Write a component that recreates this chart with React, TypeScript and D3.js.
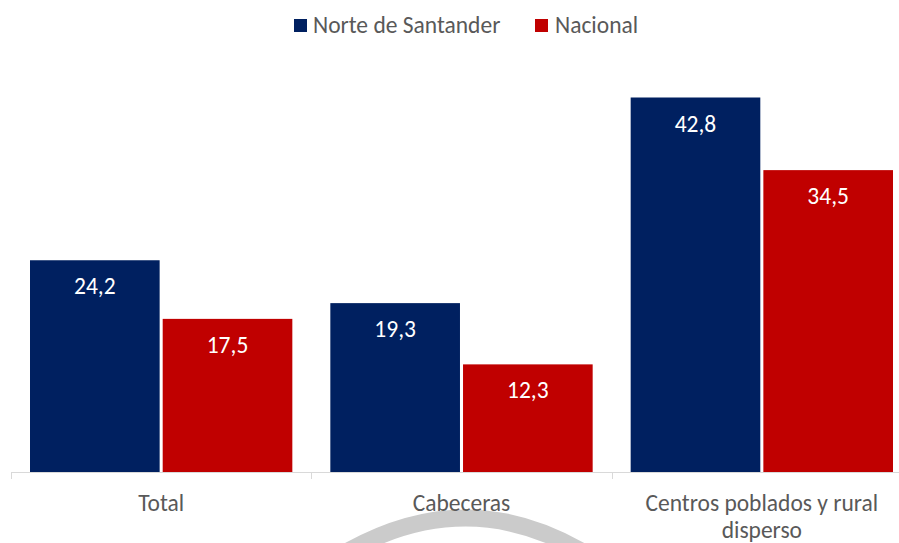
import React from 'react';
import * as d3 from 'd3';

const categories = ['Total', 'Cabeceras', 'Centros poblados y rural disperso'];
const categoryLines = [['Total'], ['Cabeceras'], ['Centros poblados y rural', 'disperso']];
const seriesNames = ['Norte de Santander', 'Nacional'];
const norteValues = [24.2, 19.3, 42.8];
const nacionalValues = [17.5, 12.3, 34.5];
const colors = ['#002060', '#C00000'];

const width = 899;
const height = 543;
const font = 'Carlito, Calibri, "Open Sans", sans-serif';

const App = () => {
  const x0 = d3.scaleBand<string>().domain(categories).range([11, 912]);
  const x1 = d3
    .scaleBand<string>()
    .domain(seriesNames)
    .range([19, x0.bandwidth() - 19])
    .paddingInner(0.023);
  const y = d3.scaleLinear().domain([0, 50]).range([472, 34.5]);
  const fmt = (v: number) => d3.format('.1f')(v).replace('.', ',');
  const values = [norteValues, nacionalValues];

  // swoosh watermark under the middle label
  const mid = (x0('Cabeceras') ?? 0) + x0.bandwidth() / 2;
  const swoosh = d3.path();
  swoosh.moveTo(mid - 122, 556);
  swoosh.quadraticCurveTo(mid + 5, 480, mid + 128, 556);

  return (
    <svg width={width} height={height} style={{ position: 'absolute', left: 0, top: 0 }}>
      <rect width={width} height={height} fill="#fff" />
      <path d={swoosh.toString()} fill="none" stroke="#cbcbcb" strokeWidth={17} />

      {/* legend */}
      <g fontFamily={font} fontSize={23.5} fill="#595959">
        <rect x={294} y={19} width={13} height={13} fill={colors[0]} />
        <text x={313} y={33}>{seriesNames[0]}</text>
        <rect x={535} y={19} width={13} height={13} fill={colors[1]} />
        <text x={555} y={33}>{seriesNames[1]}</text>
      </g>

      {categories.map((c, ci) => (
        <g key={c} transform={`translate(${x0(c)},0)`}>
          {seriesNames.map((s, si) => {
            const v = values[si][ci];
            return (
              <g key={s}>
                <rect
                  x={x1(s)}
                  y={y(v)}
                  width={x1.bandwidth()}
                  height={y(0) - y(v)}
                  fill={colors[si]}
                />
                <text
                  x={(x1(s) ?? 0) + x1.bandwidth() / 2}
                  y={y(v) + 34}
                  textAnchor="middle"
                  fontFamily={font}
                  fontSize={23.5}
                  fill="#fff"
                >
                  {fmt(v)}
                </text>
              </g>
            );
          })}
          <text
            x={x0.bandwidth() / 2}
            y={511}
            textAnchor="middle"
            fontFamily={font}
            fontSize={23.5}
            fill="#595959"
          >
            {categoryLines[ci].map((line, li) => (
              <tspan key={li} x={x0.bandwidth() / 2} dy={li === 0 ? 0 : 27}>
                {line}
              </tspan>
            ))}
          </text>
        </g>
      ))}

      {/* axis */}
      <line x1={11} x2={912} y1={y(0) + 0.5} y2={y(0) + 0.5} stroke="#d9d9d9" strokeWidth={1} />
      {d3.range(categories.length + 1).map((i) => {
        const tx = Math.round(11 + i * x0.step()) + 0.5;
        return <line key={i} x1={tx} x2={tx} y1={y(0)} y2={y(0) + 7} stroke="#d9d9d9" />;
      })}
    </svg>
  );
};

export default App;
